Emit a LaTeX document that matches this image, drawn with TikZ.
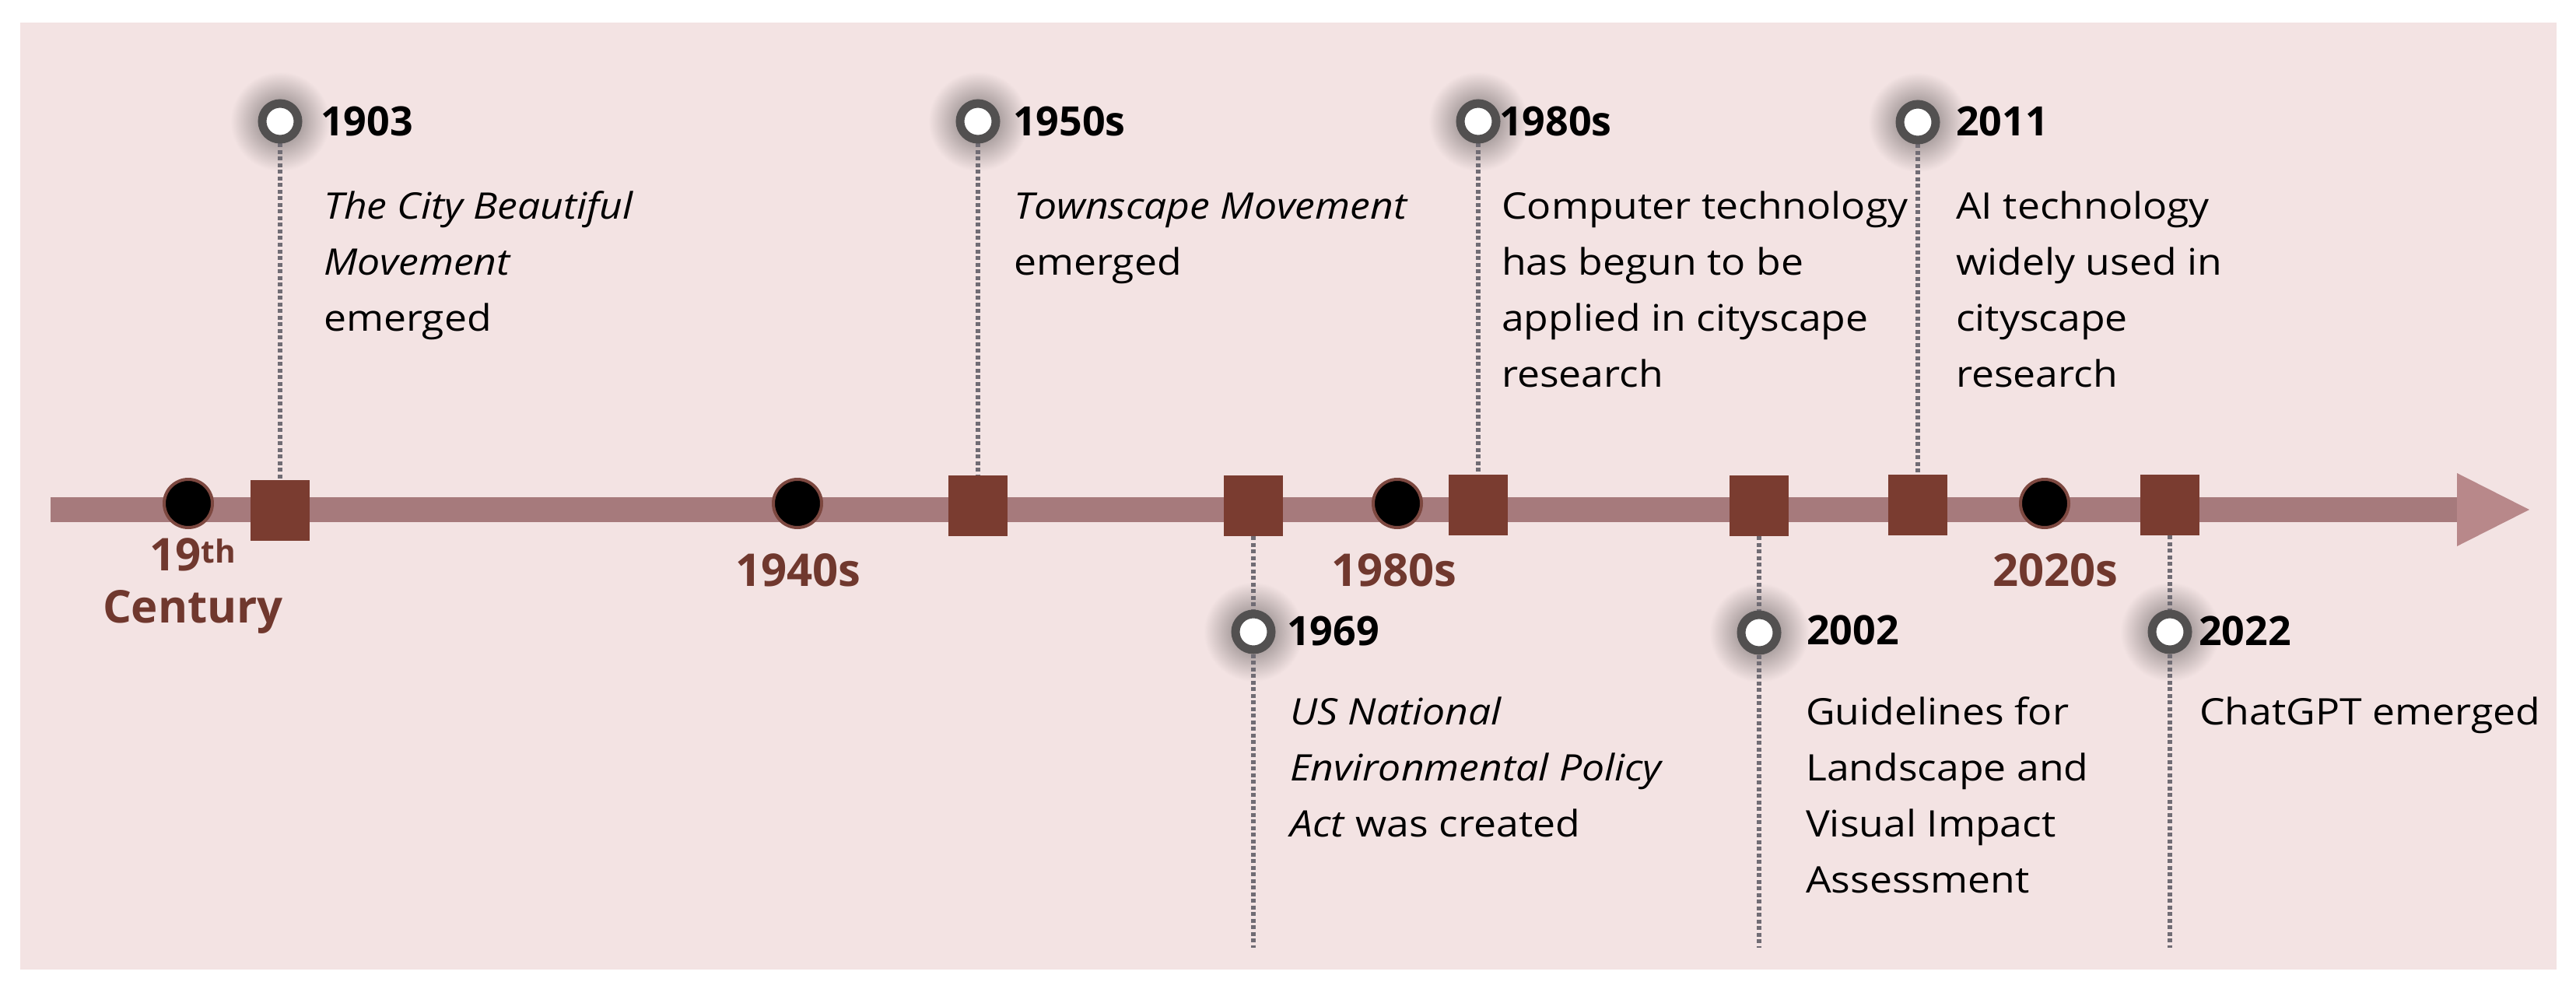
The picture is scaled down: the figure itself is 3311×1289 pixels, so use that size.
\documentclass[tikz,border=0pt]{standalone}
\usepackage{fontspec}
\setmainfont{Open Sans}
\newfontfamily\bodyfont{Open Sans}[FakeStretch=1.1]
\definecolor{bgpink}{RGB}{243,227,227}
\definecolor{barcol}{RGB}{166,122,124}
\definecolor{headcol}{RGB}{184,136,138}
\definecolor{sqcol}{RGB}{122,60,48}
\definecolor{lblcol}{RGB}{112,56,46}
\definecolor{ringcol}{RGB}{82,80,80}
\definecolor{dotedge}{RGB}{125,72,64}
\definecolor{dashcol}{RGB}{112,108,116}
\pgfdeclarelayer{back}
\pgfdeclarelayer{mid}
\pgfsetlayers{back,mid,main}
\tikzset{
  ring/.style={circle, draw=ringcol, line width=11pt, fill=white, minimum size=46pt, inner sep=0pt},
  sq/.style={rectangle, fill=sqcol, minimum width=76pt, minimum height=78pt, inner sep=0pt},
  blackdot/.style={circle, fill=black, draw=dotedge, line width=4pt, minimum size=62pt, inner sep=0pt},
  yr/.style={anchor=base west, inner sep=0pt, font=\fontsize{52}{60}\selectfont\bfseries},
  era/.style={anchor=base, inner sep=0pt, text=lblcol, font=\fontsize{58}{67}\selectfont\bfseries},
  body/.style={anchor=base west, inner sep=0pt, font=\bodyfont\fontsize{47}{72}\selectfont},
  link/.style={dashcol, line width=6pt, dash pattern=on 5pt off 3.5pt},
  glow/.style={inner color=black!50!bgpink, outer color=bgpink}
}
\begin{document}
\begin{tikzpicture}[x=1pt,y=-1pt]
\useasboundingbox (0,0) rectangle (3311,1289);
% axis end points
\coordinate (axisL) at (65,655);
\coordinate (axisR) at (3158,655);
\coordinate (tip) at (3251,655);
% squares
\node[sq] (s1903) at (360,656) {};
\node[sq] (s1950) at (1257,650) {};
\node[sq] (s1969) at (1611,650) {};
\node[sq] (s1980) at (1900,649) {};
\node[sq] (s2002) at (2261,650) {};
\node[sq] (s2011) at (2465,649) {};
\node[sq] (s2022) at (2789,649) {};
% era dots
\node[blackdot] (d19) at (242,647) {};
\node[blackdot] (d1940) at (1025,647) {};
\node[blackdot] (d1980) at (1796,647) {};
\node[blackdot] (d2020) at (2628,647) {};
% era labels
\node[era] (l19) at (248,733) {\parbox[t]{300pt}{\centering 19\textsuperscript{th}\\Century}};
\node[era] (l1940) at (1026,753) {1940s};
\node[era] (l1980) at (1792,753) {1980s};
\node[era] (l2020) at (2642,753) {2020s};
% rings
\node[ring] (r1903) at (360,156) {};
\node[ring] (r1950) at (1257,156) {};
\node[ring] (r1980) at (1900,156) {};
\node[ring] (r2011) at (2465,157) {};
\node[ring] (r1969) at (1611,812) {};
\node[ring] (r2002) at (2261,813) {};
\node[ring] (r2022) at (2789,812) {};
% free ends of the lower dotted lines
\coordinate (e1969) at (1611,1218);
\coordinate (e2002) at (2261,1218);
\coordinate (e2022) at (2789,1218);
% year labels
\node[yr] (y1903) at (412,175) {1903};
\node[yr] (y1950) at (1302,175) {1950s};
\node[yr] (y1980) at (1927,175) {1980s};
\node[yr] (y2011) at (2514,175) {2011};
\node[yr] (y1969) at (1654,829) {1969};
\node[yr] (y2002) at (2322,828) {2002};
\node[yr] (y2022) at (2826,829) {2022};
% descriptions
\node[body] (b1903) at (416,282) {\parbox[t]{600pt}{\raggedright\textit{The City Beautiful}\\\textit{Movement}\\emerged}};
\node[body] (b1950) at (1303,282) {\parbox[t]{600pt}{\raggedright\textit{Townscape Movement}\\emerged}};
\node[body] (b1980) at (1930,282) {\parbox[t]{600pt}{\raggedright Computer technology\\has begun to be\\applied in cityscape\\research}};
\node[body] (b2011) at (2514,282) {\parbox[t]{600pt}{\raggedright AI technology\\widely used in\\cityscape\\research}};
\node[body] (b1969) at (1658,931) {\parbox[t]{600pt}{\raggedright\textit{US National}\\\textit{Environmental Policy}\\\textit{Act} was created}};
\node[body] (b2002) at (2321,931) {\parbox[t]{600pt}{\raggedright Guidelines for\\Landscape and\\Visual Impact\\Assessment}};
\node[body] (b2022) at (2827,931) {\parbox[t]{600pt}{\raggedright ChatGPT emerged}};
\begin{pgfonlayer}{back}
  \fill[white] (0,0) rectangle (3311,1289);
  \fill[bgpink] (26,29) rectangle (3286,1246);
  \foreach \r in {r1903,r1950,r1980,r2011,r1969,r2002,r2022}
    \shade[glow] (\r.center) circle (64pt);
  \draw[barcol, line width=32pt] (axisL) -- (axisR);
  \fill[headcol] (3158,608) -- (tip) -- (3158,702) -- cycle;
\end{pgfonlayer}
\begin{pgfonlayer}{mid}
  \draw[link] (r1903.south) -- (s1903.north);
  \draw[link] (r1950.south) -- (s1950.north);
  \draw[link] (r1980.south) -- (s1980.north);
  \draw[link] (r2011.south) -- (s2011.north);
  \draw[link] (s1969.south) -- (r1969.north);
  \draw[link] (r1969.south) -- (e1969);
  \draw[link] (s2002.south) -- (r2002.north);
  \draw[link] (r2002.south) -- (e2002);
  \draw[link] (s2022.south) -- (r2022.north);
  \draw[link] (r2022.south) -- (e2022);
\end{pgfonlayer}
\end{tikzpicture}
\end{document}
